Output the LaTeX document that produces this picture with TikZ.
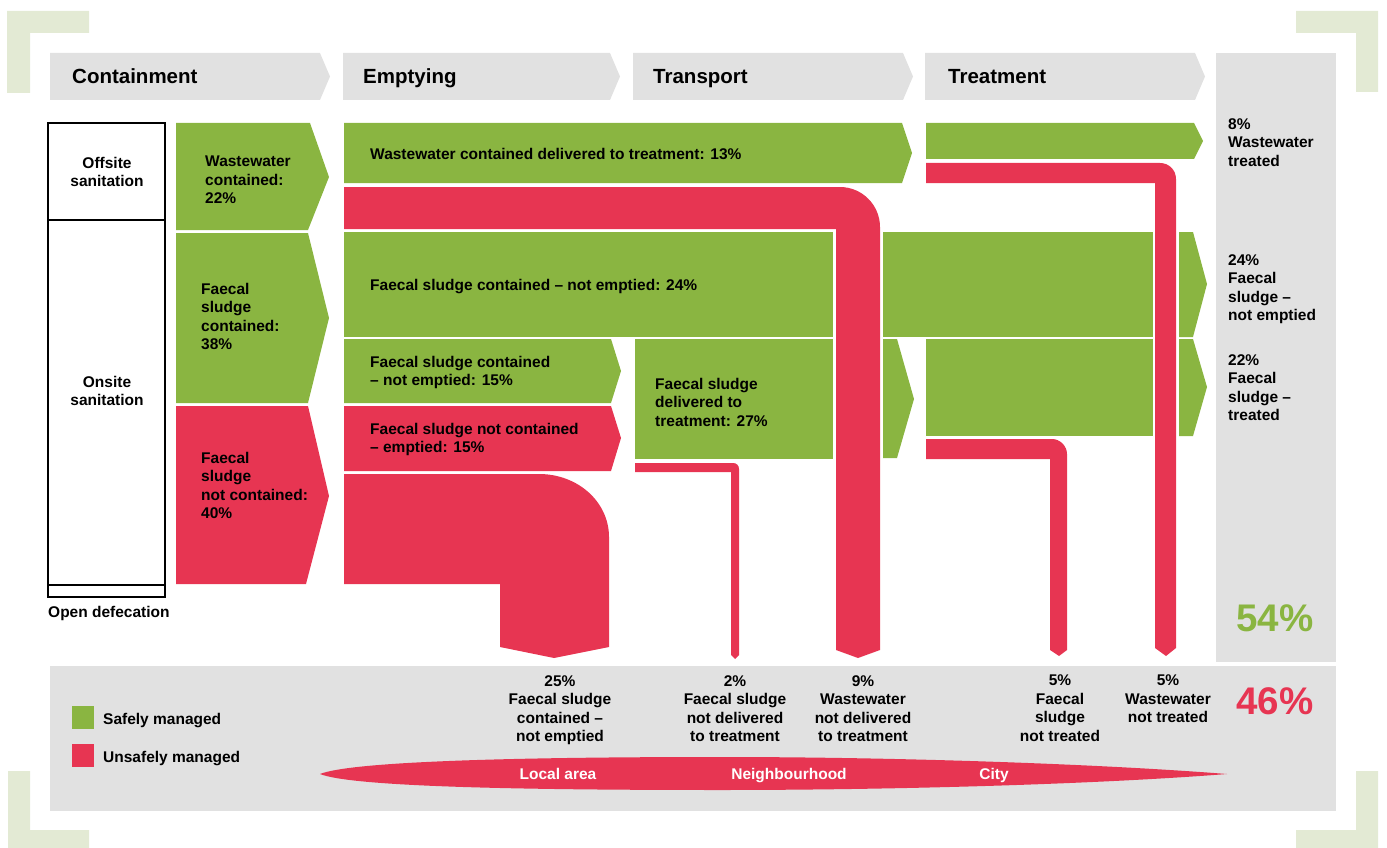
\documentclass[tikz,border=0pt]{standalone}
\usepackage{fontspec}
\setmainfont{Liberation Sans}
\definecolor{safegreen}{HTML}{8AB541}
\definecolor{unsafered}{HTML}{E73552}
\definecolor{stagegray}{HTML}{E1E1E1}
\definecolor{framegreen}{HTML}{E3EAD4}

\begin{document}
\begin{tikzpicture}[x = 1pt, y = -1pt,
  safe/.style = {fill=safegreen},
  unsafe/.style = {fill=unsafered},
  stagebar/.style = {fill=stagegray},
  txt/.style = {font=\bfseries\fontsize{15.5}{18.5}\selectfont, inner sep=0pt},
  hdtxt/.style = {font=\bfseries\fontsize{20.5}{24}\selectfont, inner sep=0pt, anchor=base west},
  bigtxt/.style = {font=\bfseries\fontsize{38.5}{40}\selectfont, inner sep=0pt, anchor=north}]

\useasboundingbox (0,0) rectangle (1387,848);

% corner frame
\fill[framegreen] (7,11) -- (89,11) -- (89,33) -- (30,33) -- (30,93) -- (7,93) -- cycle;
\fill[framegreen] (1378,11) -- (1296,11) -- (1296,33) -- (1356,33) -- (1356,92) -- (1378,92) -- cycle;
\fill[framegreen] (8,771) -- (30,771) -- (30,830) -- (89,830) -- (89,848) -- (8,848) -- cycle;
\fill[framegreen] (1378,771) -- (1356,771) -- (1356,830) -- (1296,830) -- (1296,848) -- (1378,848) -- cycle;

\fill[stagebar] (1216,53) rectangle (1336,662);
\fill[stagebar] (50,666) rectangle (1336,811);

\foreach \xa/\xb/\xt/\name/\lbl in {50/320/72/hdcont/Containment, 343/610/363/hdempt/Emptying, 633/903/653/hdtrans/Transport, 925/1195/948/hdtreat/Treatment} {
  \fill[stagebar] (\xa,53) -- (\xb,53) -- (\xb+10,76.5) -- (\xb,100) -- (\xa,100) -- cycle;
  \node[hdtxt] (\name) at (\xt,83.5) {\lbl};
}

\begin{scope}
\draw[line width=1.2pt] (48,123) rectangle (165,597);
\draw[line width=1.2pt] (48,220) -- (165,220);
\draw[line width=1.2pt] (48,585) -- (165,585);
\node[txt, anchor=north, align=center] (offsite) at (107,157) {Offsite\\sanitation};
\node[txt, anchor=north, align=center] (onsite) at (107,376) {Onsite\\sanitation};
\node[txt, anchor=north west] (opendef) at (48,606) {Open defecation};
\end{scope}

\begin{scope}
\fill[safe] (176,123) -- (310,123) -- (329,177) -- (308,230) -- (176,230) -- cycle;
\fill[safe] (176,233) -- (308,233) -- (329,318) -- (308,403) -- (176,403) -- cycle;
\fill[unsafe] (176,406) -- (308,406) -- (329,496) -- (306,584) -- (176,584) -- cycle;
\node[txt, anchor=north west, align=left] (wwcont) at (205,156) {Wastewater\\contained:\\22\%};
\node[txt, anchor=north west, align=left] (fscont) at (201,283) {Faecal\\sludge\\contained:\\38\%};
\node[txt, anchor=north west, align=left] (fsnotcont) at (201,452) {Faecal\\sludge\\not contained:\\40\%};
\end{scope}

\begin{scope}
\fill[safe] (344,123) -- (902,123) -- (912,153) -- (902,183) -- (344,183) -- cycle;
\fill[safe] (344,232) rectangle (833,337);
\fill[safe] (344,339) -- (611,339) -- (621,371) -- (611,403) -- (344,403) -- cycle;
\fill[unsafe] (344,406) -- (611,406) -- (621,438) -- (611,471) -- (344,471) -- cycle;
\fill[safe] (635,339) rectangle (833,459);
\fill[safe] (883,232) rectangle (1153,337);
\fill[safe] (883,339) -- (897,339) -- (914,399) -- (897,458) -- (883,458) -- cycle;
\fill[safe] (926,123) -- (1194,123) -- (1203,141) -- (1194,159) -- (926,159) -- cycle;
\fill[safe] (926,339) rectangle (1153,436);
\fill[safe] (1179,232) -- (1193,232) -- (1207,284) -- (1193,337) -- (1179,337) -- cycle;
\fill[safe] (1179,339) -- (1193,339) -- (1207,387) -- (1193,436) -- (1179,436) -- cycle;
\node[txt, anchor=north west] (wwdeliv) at (370,148) {Wastewater contained delivered to treatment: 13\%};
\node[txt, anchor=north west] (fsnotempt) at (370,279) {Faecal sludge contained -- not emptied: 24\%};
\node[txt, anchor=north west, align=left] (fsnotempt2) at (370,356) {Faecal sludge contained\\-- not emptied: 15\%};
\node[txt, anchor=north west, align=left] (fsempt) at (370,423) {Faecal sludge not contained\\-- emptied: 15\%};
\node[txt, anchor=north west, align=left] (fsdeliv) at (655,378) {Faecal sludge\\delivered to\\treatment: 27\%};
\end{scope}

% unsafe flows
\fill[unsafe] (344,187) -- (840,187) .. controls (862,187) and (880,205) .. (880,227) -- (880,650) -- (858,658) -- (836,650) -- (836,229) -- (344,229) -- cycle;
\fill[unsafe] (926,163) -- (1160,163) .. controls (1169,163) and (1176,170) .. (1176,179) -- (1176,648) -- (1166,656) -- (1155,648) -- (1155,183) -- (926,183) -- cycle;
\fill[unsafe] (926,439) -- (1052,439) .. controls (1060,439) and (1067,446) .. (1067,454) -- (1067,650) -- (1059,656) -- (1050,650) -- (1050,459) -- (926,459) -- cycle;
\fill[unsafe] (635,463) -- (733,463) .. controls (736.5,463) and (739,465.5) .. (739,469) -- (739,655) -- (735,659) -- (731,655) -- (731,472) -- (635,472) -- cycle;
\fill[unsafe] (344,474) -- (539,474) .. controls (578,474) and (609,502) .. (609,537) -- (609,647) -- (554,658) -- (500,647) -- (500,584) -- (344,584) -- cycle;

\node[txt, anchor=north west, align=left] (wwtreat) at (1228,118) {8\%\\Wastewater\\treated};
\node[txt, anchor=north west, align=left] (fsout) at (1228,254) {24\%\\Faecal\\sludge --\\not emptied};
\node[txt, anchor=north west, align=left] (fstreat) at (1228,354) {22\%\\Faecal\\sludge --\\treated};
\node[bigtxt, text=safegreen] (safetot) at (1275,605) {54\%};
\node[bigtxt, text=unsafered] (unsafetot) at (1275,687) {46\%};

\node[txt, anchor=north, align=center] (outa) at (560,675) {25\%\\Faecal sludge\\contained --\\not emptied};
\node[txt, anchor=north, align=center] (outb) at (735,675) {2\%\\Faecal sludge\\not delivered\\to treatment};
\node[txt, anchor=north, align=center] (outc) at (863,675) {9\%\\Wastewater\\not delivered\\to treatment};
\node[txt, anchor=north, align=center] (outd) at (1060,675) {5\%\\Faecal\\sludge\\not treated};
\node[txt, anchor=north, align=center] (oute) at (1168,675) {5\%\\Wastewater\\not treated};

\fill[safe] (72,706) rectangle (94,729);
\fill[unsafe] (72,744) rectangle (94,767);
\node[txt, anchor=base west] (keysafe) at (103,724) {Safely managed};
\node[txt, anchor=base west] (keyunsafe) at (103,762) {Unsafely managed};

\fill[unsafe] (320,774) .. controls (350,762) and (500,757) .. (720,757) .. controls (900,757) and (1100,764) .. (1227,774) .. controls (1100,784) and (900,790) .. (720,790) .. controls (500,790) and (350,786) .. (320,774) -- cycle;
\node[txt, text=white, anchor=base] (local) at (558,779.5) {Local area};
\node[txt, text=white, anchor=base] (neigh) at (789,779.5) {Neighbourhood};
\node[txt, text=white, anchor=base] (city) at (994,779.5) {City};

\end{tikzpicture}
\end{document}
